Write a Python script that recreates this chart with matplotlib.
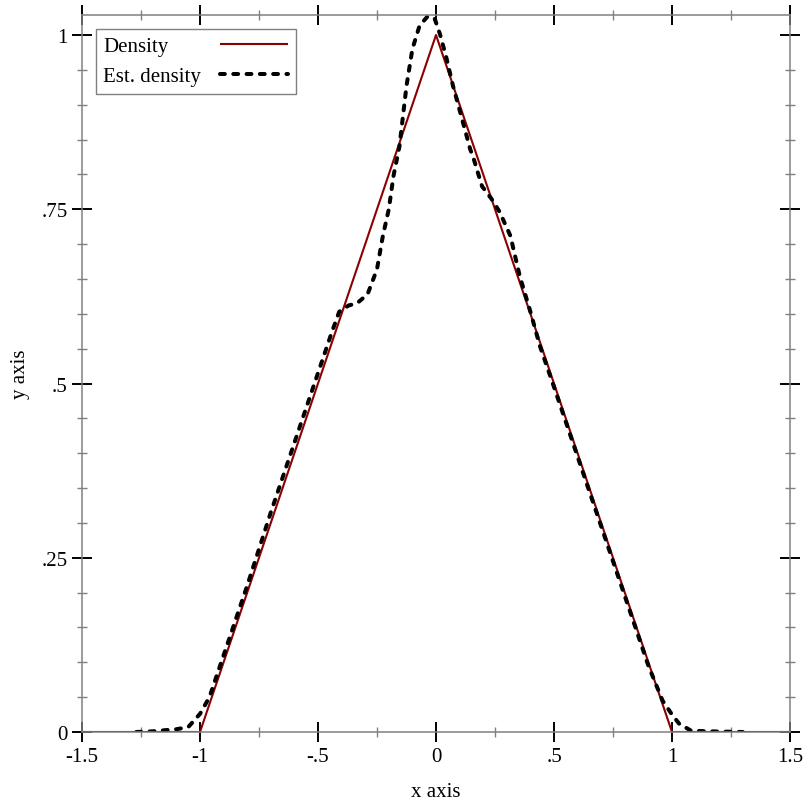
import matplotlib
matplotlib.use("Agg")
import matplotlib.pyplot as plt
from matplotlib.ticker import FixedLocator, FixedFormatter

# exact density (triangle on [-1, 1])
density_x = [-1.5, -1.0, 0.0, 1.0, 1.5]
density_y = [0.0, 0.0, 1.0, 0.0, 0.0]

# estimated density
est_x = [-1.27, -1.2, -1.1, -1.05, -1.0, -0.96, -0.9, -0.8, -0.7, -0.6,
         -0.5, -0.44, -0.41, -0.37, -0.335, -0.29, -0.25, -0.225, -0.2, -0.18,
         -0.155, -0.125, -0.1, -0.07, -0.035, -0.005, 0.017, 0.045, 0.072, 0.11,
         0.145, 0.16, 0.195, 0.235, 0.27, 0.315, 0.355, 0.4, 0.44, 0.5,
         0.6, 0.7, 0.8, 0.9, 0.96, 1.0, 1.03, 1.08, 1.15, 1.3]
est_y = [0.0, 0.001, 0.004, 0.007, 0.026, 0.05, 0.11, 0.21, 0.315, 0.415,
         0.515, 0.575, 0.603, 0.612, 0.615, 0.628, 0.664, 0.712, 0.75, 0.798,
         0.84, 0.927, 0.98, 1.013, 1.027, 1.023, 1.001, 0.966, 0.927, 0.88,
         0.836, 0.822, 0.783, 0.765, 0.746, 0.712, 0.654, 0.603, 0.554, 0.495,
         0.395, 0.295, 0.195, 0.095, 0.045, 0.025, 0.012, 0.002, 0.001, 0.0]

x_major = [-1.5, -1.0, -0.5, 0.0, 0.5, 1.0, 1.5]
x_labels = ["-1.5", "-1", "-.5", "0", ".5", "1", "1.5"]
x_minor = [-1.25, -0.75, -0.25, 0.25, 0.75, 1.25]
y_major = [0.0, 0.25, 0.5, 0.75, 1.0]
y_labels = ["0", ".25", ".5", ".75", "1"]
y_minor = [0.05, 0.1, 0.15, 0.2, 0.3, 0.35, 0.4, 0.45, 0.55, 0.6, 0.65, 0.7,
           0.8, 0.85, 0.9, 0.95]

plt.rcParams["font.family"] = ["Liberation Serif", "DejaVu Serif"]
plt.rcParams["font.size"] = 15

fig = plt.figure(figsize=(8.12, 8.12), dpi=100)
ax = fig.add_axes([82 / 812, 79 / 812, 708 / 812, 717 / 812])

ax.plot(density_x, density_y, color="#8b0000", lw=1.5, label="Density",
        solid_capstyle="butt")
ax.plot(est_x, est_y, color="black", lw=2.9, label="Est. density",
        linestyle=(0, (1.2, 2.1)), dash_capstyle="round")

ax.set_xlim(-1.5, 1.5)
ax.set_ylim(0, 1.0287)

for sp in ax.spines.values():
    sp.set_color("#808080")
    sp.set_linewidth(1.1)

ax.xaxis.set_major_locator(FixedLocator(x_major))
ax.xaxis.set_major_formatter(FixedFormatter(x_labels))
ax.xaxis.set_minor_locator(FixedLocator(x_minor))
ax.yaxis.set_major_locator(FixedLocator(y_major))
ax.yaxis.set_major_formatter(FixedFormatter(y_labels))
ax.yaxis.set_minor_locator(FixedLocator(y_minor))

ax.tick_params(which="major", direction="inout", length=15, width=1.4,
               color="black", top=True, right=True, pad=3)
ax.tick_params(which="minor", direction="inout", length=7.5, width=1.0,
               color="#808080", top=True, right=True)

ax.set_xlabel("x axis", labelpad=12)
ax.set_ylabel("y axis", labelpad=8)

leg = ax.legend(loc="upper left", markerfirst=False, fancybox=False,
                framealpha=1, edgecolor="#808080", handlelength=3.25,
                borderaxespad=0.65, labelspacing=0.5, borderpad=0.38,
                handletextpad=0.9)
leg.get_frame().set_linewidth(1.0)

# labels left-aligned, samples right-aligned (like the reference legend)
fig.canvas.draw()
renderer = fig.canvas.get_renderer()
for col in leg._legend_handle_box.get_children():
    rows = col.get_children()
    w = max(r.get_bbox(renderer).width for r in rows)
    for r in rows:
        r.mode = "expand"
    col.align = "left"
    col.width = w

fig.savefig("out.png", dpi=100)
